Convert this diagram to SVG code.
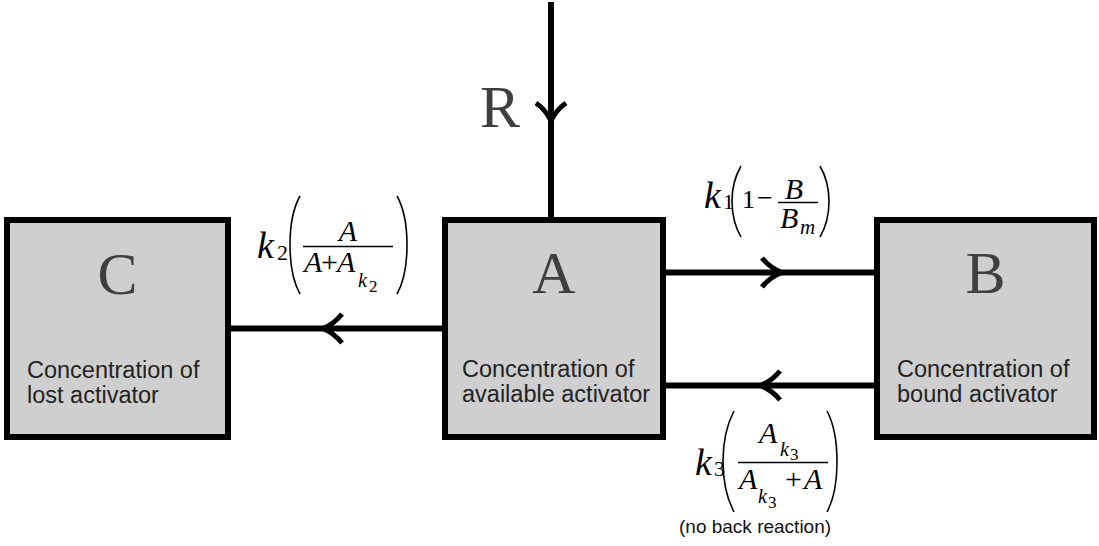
<svg xmlns="http://www.w3.org/2000/svg" width="1099" height="546" viewBox="0 0 1099 546">
<style>
.box{fill:#cfcfcf;stroke:#000;stroke-width:6}
.big{font-family:"Liberation Serif","Times New Roman",serif;font-size:60px;fill:#3f3f3f;text-anchor:middle}
.desc{font-family:"Liberation Sans",Arial,sans-serif;font-size:23.5px;fill:#222}
.line{stroke:#000;stroke-width:6;fill:none}
.chev{stroke:#000;stroke-width:5;fill:none;stroke-linecap:butt;stroke-linejoin:miter}
.m{font-family:"Liberation Serif","Times New Roman",serif;fill:#000}
.i{font-style:italic}
.bar{stroke:#000;stroke-width:1.5}
.par{stroke:#000;stroke-width:1.6;fill:none}
.note{font-family:"Liberation Sans",Arial,sans-serif;font-size:19px;fill:#111}
</style>
<rect width="1099" height="546" fill="#fff"/>
<g id="connectors">
<line class="line" x1="551" y1="2" x2="551" y2="217"/>
<path class="chev" d="M536 103 Q546 110 551 121 Q556 110 566 103"/>
<line class="line" x1="231" y1="328.5" x2="442" y2="328.5"/>
<path class="chev" d="M342 314 Q334 324 323 328.5 Q334 333 342 343"/>
<line class="line" x1="666" y1="272.5" x2="874" y2="272.5"/>
<path class="chev" d="M762 258 Q770 268 782 272.5 Q770 277 762 287"/>
<line class="line" x1="666" y1="385.5" x2="874" y2="385.5"/>
<path class="chev" d="M780 371 Q772 381 760 385.5 Q772 390 780 400"/>
</g>
<g id="label-R">
<text class="big" x="500" y="127">R</text>
</g>
<g id="node-C">
<rect class="box" x="7" y="220" width="221" height="217"/>
<text class="big" x="117.5" y="294">C</text>
<text class="desc" x="27" y="378">Concentration of</text>
<text class="desc" x="27" y="403">lost activator</text>
</g>
<g id="node-A">
<rect class="box" x="445" y="220" width="218" height="217"/>
<text class="big" x="554" y="293">A</text>
<text class="desc" x="462" y="377">Concentration of</text>
<text class="desc" x="462" y="402">available activator</text>
</g>
<g id="node-B">
<rect class="box" x="877" y="220" width="217" height="217"/>
<text class="big" x="985.5" y="293">B</text>
<text class="desc" x="897" y="377">Concentration of</text>
<text class="desc" x="897" y="402">bound activator</text>
</g>
<g id="label-k2">
<text class="m i" x="257" y="258" font-size="38">k</text>
<text class="m" x="277" y="260" font-size="22">2</text>
<path class="par" d="M300 196 C291 212 290 230 290 245 C290 260 291 278 300 294"/>
<text class="m i" x="348" y="241" font-size="30" text-anchor="middle">A</text>
<line class="bar" x1="303" y1="246.5" x2="393" y2="246.5"/>
<text class="m i" x="304" y="272" font-size="30">A</text>
<text class="m" x="321" y="272" font-size="30">+</text>
<text class="m i" x="337" y="272" font-size="30">A</text>
<text class="m i" x="358" y="287" font-size="20">k</text>
<text class="m" x="369" y="292" font-size="17">2</text>
<path class="par" d="M397 196 C406 212 407 230 407 245 C407 260 406 278 397 294"/>
</g>
<g id="label-k1">
<text class="m i" x="704" y="208" font-size="38">k</text>
<text class="m" x="723" y="209" font-size="22">1</text>
<path class="par" d="M741 166 C734 178 732 190 732 201.5 C732 213 734 225 741 237"/>
<text class="m" x="742" y="208" font-size="26">1</text>
<text class="m" x="757" y="207" font-size="28">−</text>
<text class="m i" x="794" y="199" font-size="30" text-anchor="middle">B</text>
<line class="bar" x1="778" y1="202.5" x2="818" y2="202.5"/>
<text class="m i" x="780" y="228" font-size="30">B</text>
<text class="m i" x="800" y="234" font-size="21">m</text>
<path class="par" d="M820 166 C827 178 829 190 829 201.5 C829 213 827 225 820 237"/>
</g>
<g id="label-k3">
<text class="m i" x="695" y="475" font-size="38">k</text>
<text class="m" x="714" y="476" font-size="22">3</text>
<path class="par" d="M734 411 C725 428 723 446 723 461.5 C723 477 725 495 734 512"/>
<text class="m i" x="759" y="443" font-size="30">A</text>
<text class="m i" x="780" y="456" font-size="20">k</text>
<text class="m" x="790" y="460" font-size="17">3</text>
<line class="bar" x1="738" y1="462.5" x2="828" y2="462.5"/>
<text class="m i" x="739" y="489" font-size="30">A</text>
<text class="m i" x="758" y="503" font-size="20">k</text>
<text class="m" x="768" y="508" font-size="17">3</text>
<text class="m" x="785" y="489" font-size="30">+</text>
<text class="m i" x="804" y="489" font-size="30">A</text>
<path class="par" d="M827 411 C836 428 837 446 837 461.5 C837 477 836 495 827 512"/>
<text class="note" x="679" y="533">(no back reaction)</text>
</g>
</svg>
